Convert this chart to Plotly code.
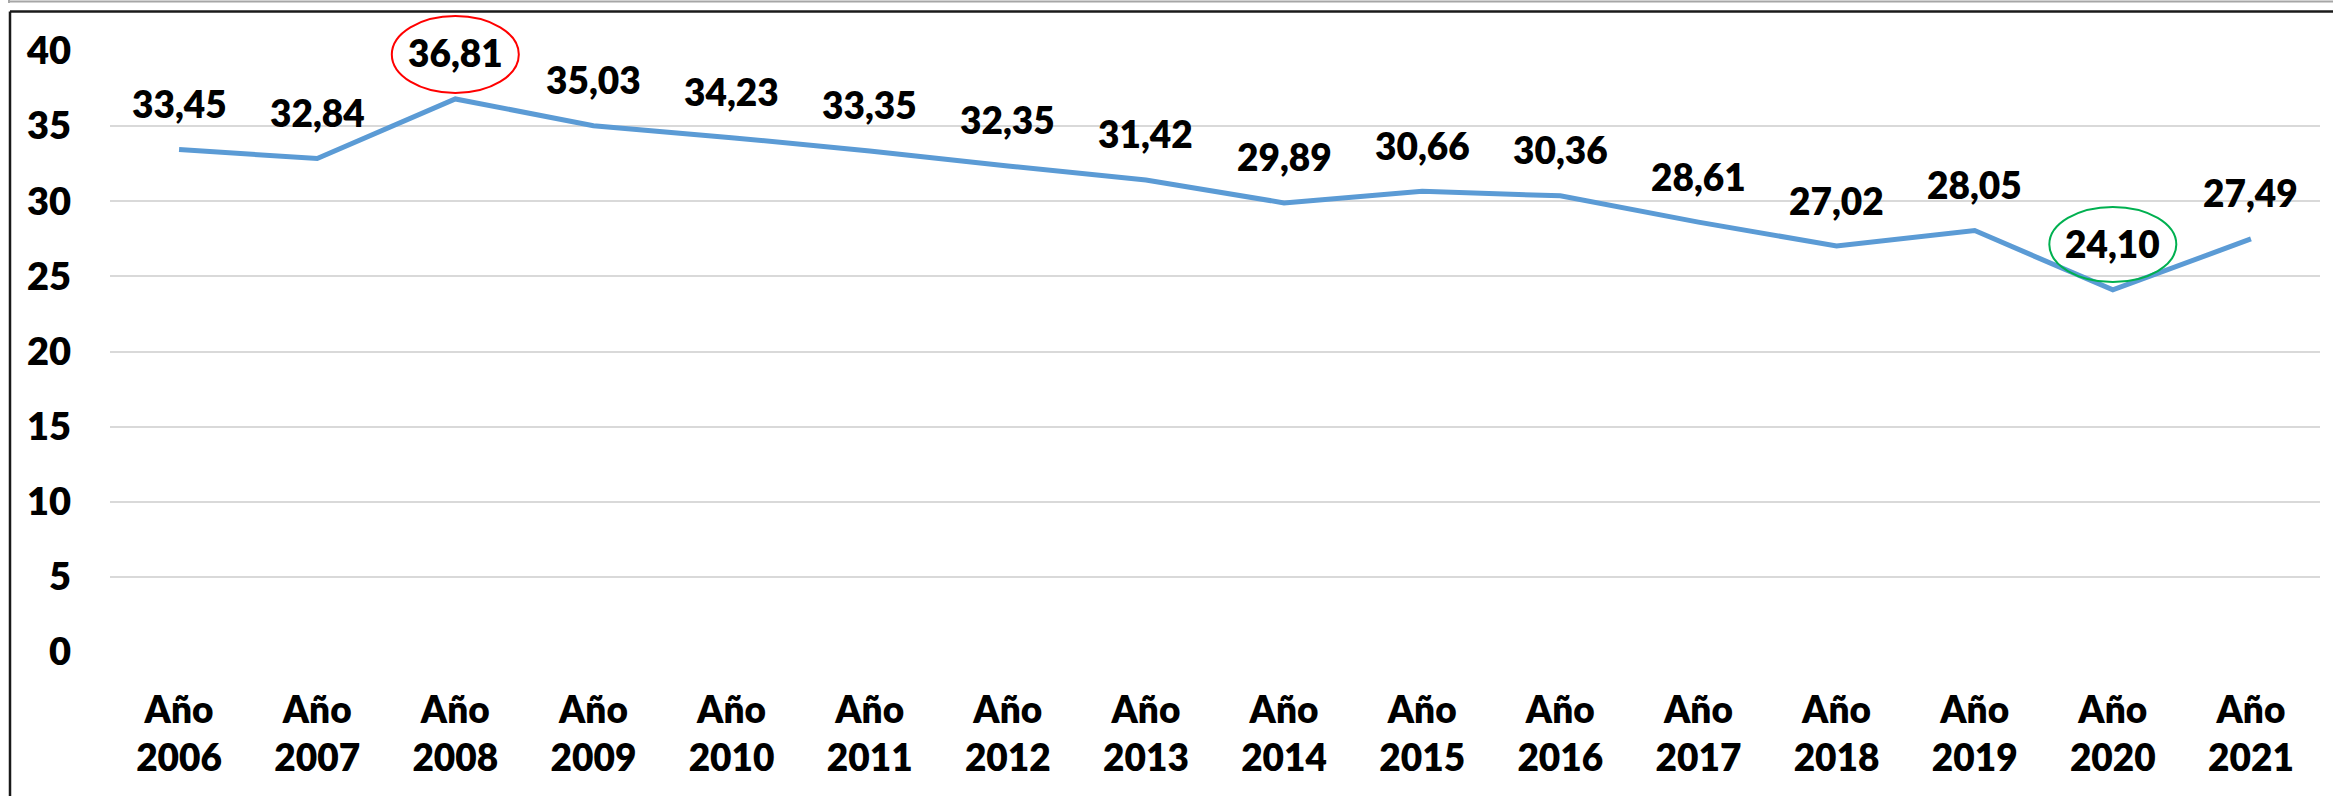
import plotly.graph_objects as go

categories = ["Año 2006", "Año 2007", "Año 2008", "Año 2009", "Año 2010", "Año 2011",
              "Año 2012", "Año 2013", "Año 2014", "Año 2015", "Año 2016", "Año 2017",
              "Año 2018", "Año 2019", "Año 2020", "Año 2021"]
values = [33.45, 32.84, 36.81, 35.03, 34.23, 33.35, 32.35, 31.42, 29.89, 30.66,
          30.36, 28.61, 27.02, 28.05, 24.10, 27.49]
tick_labels = [c.replace(" ", "<br>") for c in categories]
y_ticks = [0, 5, 10, 15, 20, 25, 30, 35, 40]
highlight_max = "Año 2008"
highlight_min = "Año 2020"

W, H = 2333, 796
ML, MR, MT, MB = 110, 13, 51, 144
PW, PH = W - ML - MR, H - MT - MB

def px_x(p):
    return (p - ML) / PW

def px_y(p):
    return (H - MB - p) / PH

FONT = "Lato"
WEIGHT = 800
fig = go.Figure()
fig.add_trace(go.Scatter(
    x=list(range(len(categories))), y=values, mode="lines",
    line=dict(color="#5B9BD5", width=5, shape="linear"),
    hoverinfo="skip", showlegend=False,
))

for i, v in enumerate(values):
    fig.add_annotation(
        x=i, y=v, xref="x", yref="y",
        text=f"{v:.2f}".replace(".", ","),
        showarrow=False, yshift=46, yanchor="middle",
        font=dict(family=FONT, size=37, color="black", weight=WEIGHT),
    )

n = len(categories)
half_w = 63.5 / PW
for cat, col, top, bot in [(highlight_max, "#FF0000", 16, 93), (highlight_min, "#00B050", 207, 282)]:
    i = categories.index(cat)
    cx = (i + 0.5) / n
    fig.add_shape(type="circle", xref="paper", yref="paper",
                  x0=cx - half_w, x1=cx + half_w, y0=px_y(bot), y1=px_y(top),
                  line=dict(color=col, width=2))

# frame lines
fig.add_shape(type="line", xref="paper", yref="paper", x0=px_x(9), x1=px_x(W), y0=px_y(1.5), y1=px_y(1.5),
              line=dict(color="#A6A6A6", width=2))
fig.add_shape(type="line", xref="paper", yref="paper", x0=px_x(9), x1=px_x(9), y0=px_y(0), y1=px_y(3),
              line=dict(color="#A6A6A6", width=2))
fig.add_shape(type="line", xref="paper", yref="paper", x0=px_x(10), x1=px_x(W), y0=px_y(11.5), y1=px_y(11.5),
              line=dict(color="#1A1A1A", width=2.5))
fig.add_shape(type="line", xref="paper", yref="paper", x0=px_x(10), x1=px_x(10), y0=px_y(11.5), y1=px_y(H),
              line=dict(color="#1A1A1A", width=2.5))

fig.update_layout(
    width=W, height=H,
    margin=dict(l=ML, r=MR, t=MT, b=MB, autoexpand=False),
    paper_bgcolor="white", plot_bgcolor="white",
    showlegend=False,
    font=dict(family=FONT, color="black"),
)
fig.update_xaxes(
    range=[-0.5, n - 0.5], tickmode="array", tickvals=list(range(n)), ticktext=tick_labels,
    showgrid=False, zeroline=False, showline=False, ticks="",
    tickfont=dict(family=FONT, size=37, color="black", weight=WEIGHT),
    ticklabelstandoff=33, automargin=False,
)
fig.update_yaxes(
    range=[0, 40], tickmode="array", tickvals=y_ticks,
    showgrid=True, gridcolor="#D9D9D9", gridwidth=2, zeroline=False, showline=False, ticks="",
    tickfont=dict(family=FONT, size=38, color="black", weight=WEIGHT),
    ticklabelstandoff=38, automargin=False,
)

fig.write_html("out.html", config={"displayModeBar": False},
               post_script="document.body.style.margin='0';document.body.style.overflow='hidden';")
